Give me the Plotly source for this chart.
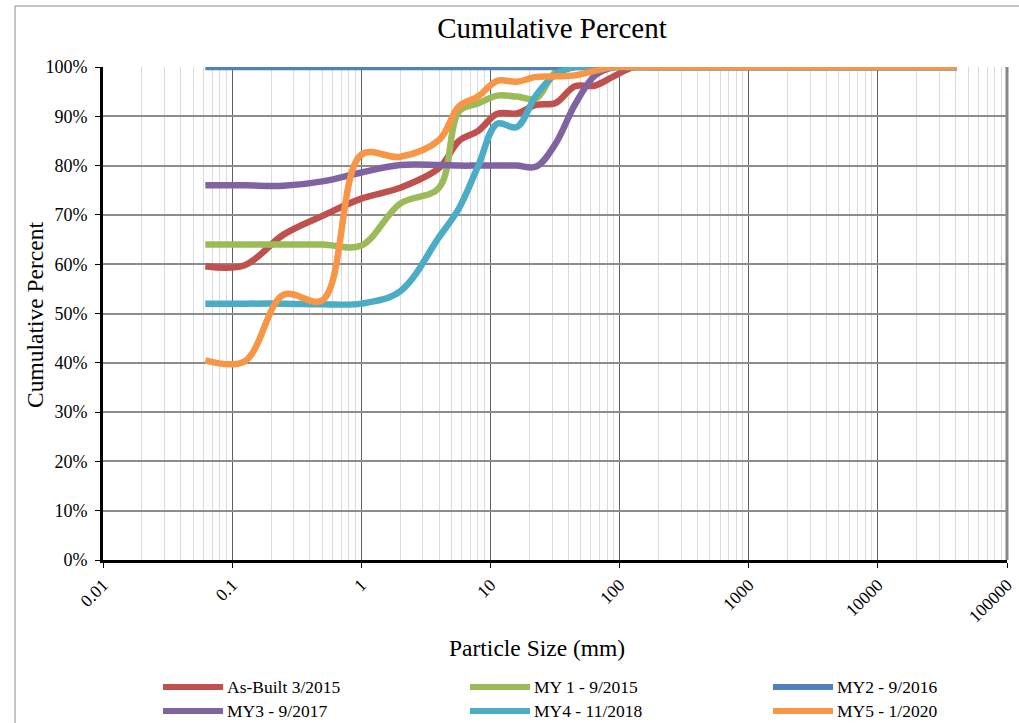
import plotly.graph_objects as go

# Sieve sizes (mm) shared by every sample
sizes = [0.062, 0.125, 0.25, 0.5, 1, 2, 4, 5.7, 8, 11.3, 16, 22.6, 32, 45, 64,
         90, 128, 180, 256, 362, 512, 1024, 2048, 4096, 41000]

# Cumulative percent finer for each survey
as_built = [59.6, 59.8, 66.0, 69.8, 73.3, 75.5, 79.5, 85.0, 87.0, 90.5, 90.6, 92.3, 92.7, 96.1, 96.2,
            98.1, 100, 100, 100, 100, 100, 100, 100, 100, 100]
my1 = [64.0, 64.0, 64.0, 64.0, 63.8, 72.3, 75.5, 91.0, 92.6, 94.2, 94.0, 93.6, 99.0, 100, 100,
       100, 100, 100, 100, 100, 100, 100, 100, 100, 100]
my2 = [100, 100, 100, 100, 100, 100, 100, 100, 100, 100, 100, 100, 100, 100, 100,
       100, 100, 100, 100, 100, 100, 100, 100, 100, 100]
my3 = [76.0, 76.0, 75.9, 76.8, 78.6, 80.1, 80.1, 80.0, 80.0, 80.0, 80.0, 79.8, 84.5, 92.3, 98.2,
       100, 100, 100, 100, 100, 100, 100, 100, 100, 100]
my4 = [52.0, 52.0, 52.0, 51.9, 52.0, 54.5, 65.5, 71.3, 79.8, 88.5, 87.8, 94.3, 98.5, 100, 100,
       100, 100, 100, 100, 100, 100, 100, 100, 100, 100]
my5 = [40.5, 40.3, 53.8, 52.7, 82.2, 81.8, 85.2, 92.0, 94.0, 97.2, 97.0, 98.0, 98.1, 98.3, 99.2,
       100, 100, 100, 100, 100, 100, 100, 100, 100, 100]

names = ["As-Built 3/2015", "MY 1 - 9/2015", "MY2 - 9/2016",
         "MY3 - 9/2017", "MY4 - 11/2018", "MY5 - 1/2020"]
series = [as_built, my1, my2, my3, my4, my5]
colors = ["#C0504D", "#9BBB59", "#4F81BD", "#8064A2", "#4BACC6", "#F79646"]

x_tick_vals = [0.01, 0.1, 1, 10, 100, 1000, 10000, 100000]
x_tick_text = ["0.01", "0.1", "1", "10", "100", "1000", "10000", "100000"]

SERIF = "Liberation Serif, Times New Roman, serif"

fig = go.Figure()
for name, vals, col in zip(names, series, colors):
    fig.add_trace(go.Scatter(
        x=sizes, y=vals, name=name, mode="lines",
        line=dict(color=col, width=6.5, shape="spline", smoothing=1.0),
        showlegend=False,
    ))

# Plot-area geometry in pixels, used to place paper-referenced decorations
W, H = 1019, 723
L, R, T, B = 103, 12, 67, 163
pw, ph = W - L - R, H - T - B


def px_x(px):
    return (px - L) / pw


def px_y(py):
    return (H - B - py) / ph


shapes = []
annotations = []

# Outer chart frame
shapes.append(dict(type="rect", xref="paper", yref="paper",
                   x0=px_x(15), x1=px_x(1030), y0=px_y(6), y1=px_y(740),
                   line=dict(color="#8a8a8a", width=1), layer="below"))
# Right border of the plot area
shapes.append(dict(type="line", xref="paper", yref="paper",
                   x0=1, x1=1, y0=0, y1=1,
                   line=dict(color="#868686", width=3), layer="below"))

# Legend: two rows, three columns
col_x = [163, 470, 773]
row_y = [687, 711]
for i, (name, col) in enumerate(zip(names, colors)):
    cx = col_x[i % 3]
    ry = row_y[i // 3]
    shapes.append(dict(type="line", xref="paper", yref="paper",
                       x0=px_x(cx), x1=px_x(cx + 60), y0=px_y(ry), y1=px_y(ry),
                       line=dict(color=col, width=6)))
    annotations.append(dict(xref="paper", yref="paper", x=px_x(cx + 62), y=px_y(ry),
                            text=name, showarrow=False, xanchor="left", yanchor="middle",
                            font=dict(family=SERIF, size=17.5, color="#000000")))

# Axis titles placed as text in the margins
annotations.append(dict(xref="paper", yref="paper", x=px_x(537), y=px_y(648),
                        text="Particle Size (mm)", showarrow=False,
                        xanchor="center", yanchor="middle",
                        font=dict(family=SERIF, size=23.5, color="#000000")))
annotations.append(dict(xref="paper", yref="paper", x=px_x(35), y=px_y(315),
                        text="Cumulative Percent", showarrow=False, textangle=-90,
                        xanchor="center", yanchor="middle",
                        font=dict(family=SERIF, size=23.5, color="#000000")))

fig.update_layout(
    width=W, height=H,
    margin=dict(l=L, r=R, t=T, b=B, autoexpand=False),
    paper_bgcolor="white", plot_bgcolor="white",
    title=dict(text="Cumulative Percent", x=552 / W, xanchor="center",
               y=1 - 28 / H, yanchor="middle",
               font=dict(family=SERIF, size=29, color="#000000")),
    shapes=shapes,
    annotations=annotations,
    showlegend=False,
)

fig.update_xaxes(
    type="log", range=[-2, 5],
    tickvals=x_tick_vals, ticktext=x_tick_text, tickangle=-45,
    ticks="outside", ticklen=5, tickcolor="#000000", tickwidth=1,
    tickfont=dict(family=SERIF, size=17.5, color="#000000"),
    showline=True, linecolor="#000000", linewidth=3,
    showgrid=True, gridcolor="#5f5f5f", gridwidth=1,
    minor=dict(dtick="D1", showgrid=True, gridcolor="#dadada", gridwidth=1, ticks=""),
    zeroline=False,
)

fig.update_yaxes(
    range=[0, 100], dtick=10, ticksuffix="%",
    ticks="outside", ticklen=5, tickcolor="#000000", tickwidth=1,
    tickfont=dict(family=SERIF, size=18, color="#000000"),
    ticklabelstandoff=4,
    showline=True, linecolor="#000000", linewidth=3,
    showgrid=True, gridcolor="#8c8c8c", gridwidth=2,
    zeroline=False,
)

fig.write_html("out.html")
